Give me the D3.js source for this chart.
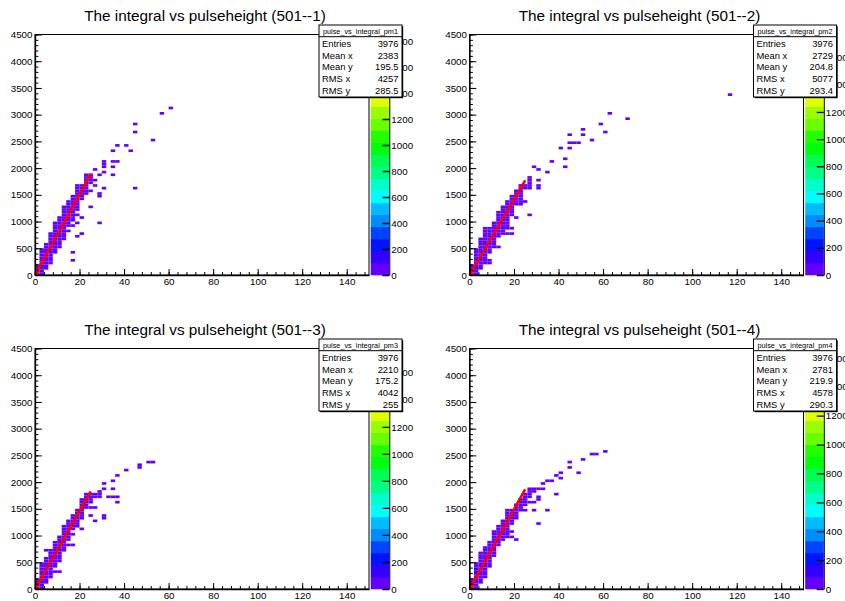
<!DOCTYPE html>
<html><head><meta charset="utf-8">
<script src="https://cdn.jsdelivr.net/npm/d3@7"></script>
<style>
body{margin:0;background:#fff;}
svg{display:block;}
text{font-family:"Liberation Sans",Arial,Helvetica,sans-serif;fill:#000;}
</style>
</head><body>
<script>
// ---------------- data ----------------
const titles = ["The integral vs pulseheight (501--1)","The integral vs pulseheight (501--2)",
                "The integral vs pulseheight (501--3)","The integral vs pulseheight (501--4)"];
const histNames = ["pulse_vs_integral_pm1","pulse_vs_integral_pm2","pulse_vs_integral_pm3","pulse_vs_integral_pm4"];
const statLabels = ["Entries","Mean x","Mean y","RMS x","RMS y"];
const entries = ["3976","3976","3976","3976"];
const meanX = ["2383","2729","2210","2781"];
const meanY = ["195.5","204.8","175.2","219.9"];
const rmsX = ["4257","5077","4042","4578"];
const rmsY = ["285.5","293.4","255","290.3"];
const zMax = [1850, 1770, 1780, 1665];
const xTicks = [0,20,40,60,80,100,120,140];
const yTicks = [0,500,1000,1500,2000,2500,3000,3500,4000,4500];
const fitX1 = [25, 25, 25, 25];
const fitY1 = [1890, 1770, 1825, 1865];

// dense band rows: [y low edge, x from, x to] (each row = 100 units tall)
const rows1 = [[0,0,4],[100,0,5],[200,2,7],[300,2,7],[400,3,9],[500,4,11],[600,6,12],[700,6,13],[800,9,14],[900,9,15],
  [1000,11,18],[1100,12,17],[1200,13,20],[1300,15,19],[1400,16,21],[1500,18,23],[1600,19,24],[1700,22,26],[1800,23,26]];
const rows2 = [[0,0,4],[100,1,5],[200,2,9],[300,2,8],[400,3,10],[500,4,11],[600,5,12],[700,7,13],[800,7,16],[900,10,17],
  [1000,12,18],[1100,13,19],[1200,15,20],[1300,17,23],[1400,18,23],[1500,20,23],[1600,22,26],[1700,26,28]];
const rows3 = [[0,0,3],[100,0,5],[200,2,7],[300,3,8],[400,3,10],[500,5,11],[600,6,12],[700,8,14],[800,9,14],[900,11,15],
  [1000,12,16],[1100,12,17],[1200,15,20],[1300,16,21],[1400,18,22],[1500,20,23],[1600,21,25],[1700,23,25]];
const rows4 = [[0,0,3],[100,0,5],[200,2,7],[300,3,8],[400,3,9],[500,5,10],[600,5,11],[700,6,12],[800,8,14],[900,10,15],
  [1000,11,17],[1100,13,18],[1200,14,20],[1300,16,21],[1400,17,22],[1500,20,24],[1600,22,26],[1700,25,28],[1800,27,30]];

// isolated bins: [x, y]
const outliers1 = [[16,290],[17.7,430],[19,730],[13,690],[21,790],[14.4,840],[16.4,920],[19.4,960],[28,960],[20.5,1050],[21.7,1050],
  [18,1140],[25.3,1270],[21.7,1400],[29.5,1470],[29.5,1500],[25.3,1560],[30.7,1620],[44.5,1622],[27.7,1680],[27.7,1772],[29.5,1865],
  [34,1875],[30.7,1900],[27.7,1996],[30.7,2030],[30.7,2080],[30.7,2120],[34,2020],[34,2120],[37,2120],[35.2,2314],[36.7,2445],
  [40,2445],[43,2314],[44.5,2670],[45.7,2807],[52,2539],[57.9,3026],[61.4,3120]];
const outliers2 = [[12.2,540],[13.7,540],[15.7,790],[17,790],[18.3,790],[16.5,870],[18,850],[20.5,1094],[26,1106],[23,1325],[25,1375],
  [20.5,1594],[24.7,1690],[27.2,1612],[26,1656],[26,1720],[26,1812],[30.7,1600],[30.7,1650],[30.7,1780],[29.5,2000],[30.7,1950],
  [35,1906],[36.5,2137],[43,2000],[43,2170],[41,2356],[44,2394],[44,2487],[47,2450],[49,2487],[45.7,2625],[50,2625],[50,2720],
  [54.6,2544],[59,2843],[61,2675],[63,3000],[71,2940],[117,3390]];
const outliers3 = [[9,330],[10.5,330],[4.5,700],[6.7,700],[15.7,830],[17.2,830],[17.2,1040],[19.5,1150],[21,1130],[21.7,1370],[24,1370],
  [26.2,1250],[30,1370],[31,1340],[23,1520],[25,1540],[27,1520],[27.7,1700],[29.5,1720],[26.2,1790],[29.5,1750],[32.5,1740],[34,1720],
  [29.5,1840],[34,1890],[31,1890],[30.7,1950],[34,2010],[35.5,2010],[36.7,1700],[36.7,1600],[37,2100],[41.2,2240],[47.5,2340],
  [47.5,2280],[51,2370],[52.5,2370]];
const outliers4 = [[16.7,950],[18.2,950],[20.5,900],[19.7,1060],[31.7,1210],[22,1450],[24,1450],[25.7,1450],[28.7,1480],[34,1480],
  [24,1560],[25.7,1560],[27,1640],[28.6,1640],[30.2,1680],[30.5,1730],[38.5,1790],[29,1860],[31,1860],[32.5,1860],[32.5,1980],
  [34.7,2025],[36,2025],[39.3,2120],[41,2060],[41,2190],[44,2280],[45.6,2370],[49,2190],[50,2410],[54.6,2500],[57.6,2500],[60.9,2560]];

// high-content bins: [x, y, content]
const hot1 = [[0,0,1850],[0,50,160],[2,50,110],[0,100,100],[2,150,100]];
const hot2 = [[0,0,1770],[0,50,120],[2,100,100]];
const hot3 = [[0,0,1780],[0,50,130],[2,50,100]];
const hot4 = [[0,0,1665],[2,300,110],[2,350,100],[0,100,120]];

// ---------------- drawing ----------------
const W = 845, H = 601;
const padOX = [0, 434.5, 0, 434.5], padOY = [0, 0, 314, 314];
const BX = 2, BY = 50, NCONT = 20, NCOL = 50;
const svg = d3.select("body").append("svg").attr("width", W).attr("height", H);

function colorForLevel(k){
  const ci = Math.floor(0.01 + (k + 0.99) * NCOL / NCONT);
  const hue = 280 - (ci + 1) * (280 / NCOL);
  return d3.hsl(hue, 1, 0.5).formatHex();
}

const pads = [0,1,2,3].map(i => ({
  title: titles[i], name: histNames[i],
  stats: [entries[i], meanX[i], meanY[i], rmsX[i], rmsY[i]],
  zmax: zMax[i], fit: [fitX1[i], fitY1[i]],
  rows: [rows1,rows2,rows3,rows4][i], outliers: [outliers1,outliers2,outliers3,outliers4][i], hot: [hot1,hot2,hot3,hot4][i]
}));

pads.forEach((p, i) => {
  const clipId = "padclip" + i;
  svg.append("clipPath").attr("id", clipId).append("rect")
     .attr("x", padOX[i]).attr("y", padOY[i]).attr("width", i % 2 ? W - padOX[i] : 422.5).attr("height", 300.5);
  const g0 = svg.append("g").attr("clip-path", `url(#${clipId})`);
  const g = g0.append("g").attr("transform", `translate(${padOX[i]},${padOY[i]})`);

  const L = 35, R = 369, T = 34.5, B = 275;
  const xs = d3.scaleLinear().domain([0,150]).range([L,R]);
  const ys = d3.scaleLinear().domain([0,4500]).range([B,T]);
  const zs = d3.scaleLinear().domain([0,p.zmax]).range([B,T]);
  const level = c => Math.min(NCONT - 1, Math.floor(c / p.zmax * NCONT));

  // bins
  const cells = new Map();
  const add = (x, y, c) => {
    const bx = Math.floor(x / BX) * BX, by = Math.floor(y / BY) * BY;
    const key = bx + "," + by;
    cells.set(key, {bx, by, c: Math.max(c, (cells.get(key) || {c:0}).c)});
  };
  p.rows.forEach(([y0, x0, x1]) => {
    for (let y = y0; y < y0 + 100; y += BY)
      for (let x = Math.floor(x0 / BX) * BX; x < x1; x += BX) add(x, y, 2);
  });
  p.outliers.forEach(([x, y]) => add(x, y, 1));
  p.hot.forEach(([x, y, c]) => add(x, y, c));

  const frame = g.append("g");
  frame.selectAll("rect.bin").data([...cells.values()]).join("rect").attr("class","bin")
    .attr("x", d => xs(d.bx)).attr("y", d => ys(d.by + BY))
    .attr("width", d => xs(d.bx + BX) - xs(d.bx)).attr("height", d => ys(d.by) - ys(d.by + BY))
    .attr("fill", d => colorForLevel(level(d.c)));

  // fit line
  g.append("line").attr("x1", xs(0)).attr("y1", ys(0)).attr("x2", xs(p.fit[0])).attr("y2", ys(p.fit[1]))
    .attr("stroke", "#ff0000").attr("stroke-width", 2.6).attr("stroke-linecap","butt");

  // frame
  g.append("rect").attr("x", L).attr("y", T).attr("width", R - L).attr("height", B - T)
    .attr("fill", "none").attr("stroke", "#000").attr("stroke-width", 1);

  // axes
  const yMinor = d3.range(0, 4501, 100);
  const xMinor = d3.range(0, 151, 4);
  g.append("g").attr("transform", `translate(${L},0)`)
    .call(d3.axisLeft(ys).tickValues(yMinor).tickSize(-3.4).tickSizeOuter(0).tickFormat(""))
    .call(a => a.select(".domain").remove());
  g.append("g").attr("transform", `translate(${L},0)`)
    .call(d3.axisLeft(ys).tickValues(yTicks).tickSize(-6.8).tickSizeOuter(0).tickPadding(2.5).tickFormat(d3.format("d")))
    .call(a => a.select(".domain").attr("stroke-width", 1.3))
    .call(a => a.selectAll("text").style("font-size", "9.8px").attr("fill","#000"));
  g.append("g").attr("transform", `translate(0,${B})`)
    .call(d3.axisBottom(xs).tickValues(xMinor).tickSize(-3).tickSizeOuter(0).tickFormat(""))
    .call(a => a.select(".domain").remove());
  g.append("g").attr("transform", `translate(0,${B})`)
    .call(d3.axisBottom(xs).tickValues(xTicks).tickSize(-6).tickSizeOuter(0).tickPadding(3).tickFormat(d3.format("d")))
    .call(a => a.select(".domain").attr("stroke-width", 1.3))
    .call(a => a.selectAll("text").style("font-size", "9.8px").attr("fill","#000"));

  // palette
  const PL = 370.7, PR = 389.3;
  const bands = d3.range(NCONT);
  g.append("g").selectAll("rect").data(bands).join("rect")
    .attr("x", PL).attr("width", PR - PL)
    .attr("y", k => zs((k + 1) * p.zmax / NCONT)).attr("height", k => zs(k * p.zmax / NCONT) - zs((k + 1) * p.zmax / NCONT) + 0.3)
    .attr("fill", k => colorForLevel(k));
  g.append("g").attr("transform", `translate(${PR},0)`)
    .call(d3.axisRight(zs).tickValues(d3.range(0, p.zmax + 1, 200)).tickSize(-7).tickSizeOuter(0).tickPadding(2).tickFormat(d3.format("d")))
    .call(a => a.select(".domain").attr("stroke-width", 1))
    .call(a => a.selectAll("line").attr("stroke-width", 1.3))
    .call(a => a.selectAll("text").style("font-size", "9.8px").attr("fill","#000"));

  // title
  g.append("text").attr("x", 205).attr("y", 21).attr("text-anchor", "middle")
    .style("font-size", "15.3px").text(p.title);

  // stats box
  const SX = 319, SY = 25, SW = 83, SH = 72;
  g.append("rect").attr("x", SX + 1.2).attr("y", SY + 1.2).attr("width", SW).attr("height", SH).attr("fill", "#000");
  g.append("rect").attr("x", SX).attr("y", SY).attr("width", SW).attr("height", SH)
    .attr("fill", "#fff").attr("stroke", "#000").attr("stroke-width", 1);
  g.append("line").attr("x1", SX).attr("x2", SX + SW).attr("y1", 36.7).attr("y2", 36.7).attr("stroke", "#000").attr("stroke-width", 1);
  g.append("text").attr("x", SX + SW / 2).attr("y", 34).attr("text-anchor", "middle")
    .style("font-size", "7.3px").text(p.name);
  const baseY = [47, 58.7, 70.3, 82, 93.6];
  statLabels.forEach((lab, j) => {
    g.append("text").attr("x", 322).attr("y", baseY[j]).style("font-size", "9.4px").text(lab);
    g.append("text").attr("x", 398.5).attr("y", baseY[j]).attr("text-anchor", "end").style("font-size", "9.4px").text(p.stats[j]);
  });
});
</script>
</body></html>
